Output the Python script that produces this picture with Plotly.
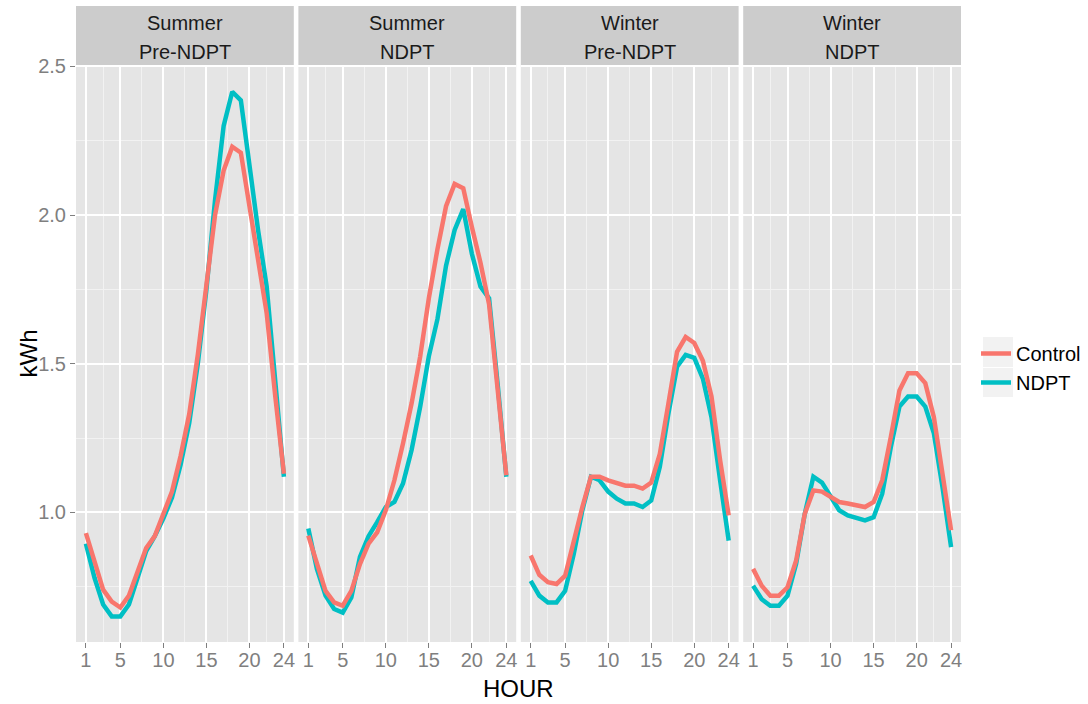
import plotly.graph_objects as go

hours = list(range(1, 25))
x_ticks = [1, 5, 10, 15, 20, 24]
x_minor = [3, 7.5, 12.5, 17.5, 22]
y_ticks = [1.0, 1.5, 2.0, 2.5]
y_ticktext = ["1.0", "1.5", "2.0", "2.5"]
y_minor = [0.75, 1.25, 1.75, 2.25]

panel_line1 = ["Summer", "Summer", "Winter", "Winter"]
panel_line2 = ["Pre-NDPT", "NDPT", "Pre-NDPT", "NDPT"]
series_names = ["Control", "NDPT"]

summer_pre_control = [0.93, 0.83, 0.74, 0.70, 0.68, 0.72, 0.80, 0.88, 0.92, 1.00, 1.07, 1.19,
                      1.33, 1.53, 1.77, 2.00, 2.15, 2.23, 2.21, 2.03, 1.85, 1.67, 1.39, 1.13]
summer_pre_ndpt = [0.895, 0.78, 0.69, 0.65, 0.65, 0.69, 0.78, 0.87, 0.92, 0.98, 1.05, 1.16,
                   1.30, 1.50, 1.75, 2.05, 2.30, 2.415, 2.386, 2.155, 1.95, 1.76, 1.45, 1.12]
summer_ndpt_control = [0.922, 0.83, 0.736, 0.697, 0.686, 0.736, 0.826, 0.895, 0.933, 1.007, 1.108, 1.232,
                       1.367, 1.525, 1.72, 1.885, 2.03, 2.105, 2.09, 1.96, 1.84, 1.70, 1.41, 1.125]
summer_ndpt_ndpt = [0.946, 0.81, 0.72, 0.675, 0.663, 0.714, 0.85, 0.92, 0.967, 1.018, 1.035, 1.097,
                    1.21, 1.356, 1.525, 1.65, 1.83, 1.95, 2.02, 1.87, 1.76, 1.72, 1.43, 1.12]
winter_pre_control = [0.855, 0.79, 0.765, 0.759, 0.787, 0.905, 1.018, 1.12, 1.12, 1.108, 1.097, 1.09,
                      1.09, 1.08, 1.10, 1.197, 1.367, 1.54, 1.59, 1.57, 1.51, 1.39, 1.176, 0.99]
winter_pre_ndpt = [0.77, 0.72, 0.697, 0.697, 0.736, 0.86, 1.007, 1.12, 1.108, 1.07, 1.046, 1.03,
                   1.03, 1.018, 1.04, 1.153, 1.333, 1.49, 1.53, 1.52, 1.45, 1.32, 1.108, 0.905]
winter_ndpt_control = [0.81, 0.753, 0.72, 0.72, 0.748, 0.838, 0.995, 1.074, 1.07, 1.052, 1.035, 1.03,
                       1.024, 1.018, 1.035, 1.108, 1.254, 1.41, 1.468, 1.468, 1.435, 1.32, 1.13, 0.94]
winter_ndpt_ndpt = [0.753, 0.708, 0.686, 0.686, 0.72, 0.827, 0.995, 1.12, 1.10, 1.052, 1.007, 0.99,
                    0.98, 0.973, 0.984, 1.063, 1.22, 1.356, 1.39, 1.39, 1.356, 1.266, 1.085, 0.883]

panels = [
    (summer_pre_control, summer_pre_ndpt),
    (summer_ndpt_control, summer_ndpt_ndpt),
    (winter_pre_control, winter_pre_ndpt),
    (winter_ndpt_control, winter_ndpt_ndpt),
]
colors = ["#F8766D", "#00BFC4"]

W, H = 1088, 704
ML, MR, MT, MB = 76, 127, 6, 62
plot_w = W - ML - MR
plot_h = H - MT - MB
gap_px = 4.6
panel_w = (plot_w - 3 * gap_px) / 4
strip_px = 59
y_top = (plot_h - strip_px) / plot_h

FONT = "Liberation Sans, Arial, sans-serif"
TICK_GREY = "#7F7F7F"

fig = go.Figure()
shapes = []
annotations = []
layout_axes = {}

for i, (ctrl, ndpt) in enumerate(panels):
    n = i + 1
    x0 = (i * (panel_w + gap_px)) / plot_w
    x1 = (i * (panel_w + gap_px) + panel_w) / plot_w
    xa = "x" if n == 1 else f"x{n}"
    ya = "y" if n == 1 else f"y{n}"
    # NDPT drawn first so that Control lies on top, as in the reference
    for k in [1, 0]:
        vals = [ctrl, ndpt][k]
        fig.add_trace(go.Scatter(
            x=hours, y=vals, mode="lines", name=series_names[k],
            line=dict(color=colors[k], width=4.5),
            xaxis=xa, yaxis=ya, legendgroup=series_names[k], legendrank=k + 1,
            showlegend=(i == 0), hoverinfo="skip",
        ))
    layout_axes["xaxis" if n == 1 else f"xaxis{n}"] = dict(
        domain=[x0, x1], anchor=ya, range=[-0.15, 25.15], automargin=False,
        tickmode="array", tickvals=x_ticks, ticks="outside", ticklen=5,
        tickwidth=1, tickcolor=TICK_GREY, ticklabelstandoff=-5,
        tickfont=dict(size=20, color=TICK_GREY, family=FONT),
        showgrid=True, gridcolor="white", gridwidth=1.5,
        minor=dict(tickvals=x_minor, showgrid=True, gridcolor="#F2F2F2", gridwidth=0.8),
        zeroline=False, showline=False, fixedrange=True,
    )
    layout_axes["yaxis" if n == 1 else f"yaxis{n}"] = dict(
        domain=[0, y_top], anchor=xa, range=[0.564, 2.505], automargin=False,
        tickmode="array", tickvals=y_ticks, ticktext=y_ticktext,
        ticks="outside" if n == 1 else "", ticklen=5, tickwidth=1, tickcolor=TICK_GREY,
        showticklabels=(n == 1),
        tickfont=dict(size=20, color=TICK_GREY, family=FONT),
        showgrid=True, gridcolor="white", gridwidth=1.5,
        minor=dict(tickvals=y_minor, showgrid=True, gridcolor="#F2F2F2", gridwidth=0.8),
        zeroline=False, showline=False, fixedrange=True,
    )
    shapes.append(dict(type="rect", xref="paper", yref="paper", x0=x0, x1=x1,
                       y0=y_top, y1=1.0, fillcolor="#CCCCCC", line=dict(width=0), layer="below"))
    xc = (x0 + x1) / 2
    annotations.append(dict(text=panel_line1[i], xref="paper", yref="paper", x=xc,
                            y=1.0 - (17 / plot_h), xanchor="center", yanchor="middle",
                            showarrow=False, font=dict(size=20, color="#1A1A1A", family=FONT)))
    annotations.append(dict(text=panel_line2[i], xref="paper", yref="paper", x=xc,
                            y=1.0 - (46.5 / plot_h), xanchor="center", yanchor="middle",
                            showarrow=False, font=dict(size=20, color="#1A1A1A", family=FONT)))

# legend key backgrounds
for (top, bot) in [(337, 367), (368, 397)]:
    shapes.append(dict(type="rect", xref="paper", yref="paper",
                       x0=(983 - ML) / plot_w, x1=(1013 - ML) / plot_w,
                       y0=(H - MB - bot) / plot_h, y1=(H - MB - top) / plot_h,
                       fillcolor="#F2F2F2", line=dict(width=0), layer="below"))

annotations.append(dict(text="HOUR", xref="paper", yref="paper", x=0.5, y=(H - MB - 688) / plot_h,
                        xanchor="center", yanchor="middle", showarrow=False,
                        font=dict(size=24, color="black", family=FONT)))
annotations.append(dict(text="kWh", xref="paper", yref="paper", x=(28 - ML) / plot_w, y=y_top / 2,
                        xanchor="center", yanchor="middle", textangle=-90, showarrow=False,
                        font=dict(size=24, color="black", family=FONT)))

fig.update_layout(
    template="none",
    width=W, height=H,
    margin=dict(l=ML, r=MR, t=MT, b=MB, pad=0, autoexpand=False),
    paper_bgcolor="white", plot_bgcolor="#E5E5E5",
    font=dict(family=FONT, size=20, color="black"),
    showlegend=True,
    legend=dict(x=(976 - ML) / plot_w, xanchor="left", y=(H - MB - 368) / plot_h, yanchor="middle",
                bgcolor="rgba(0,0,0,0)", borderwidth=0, font=dict(size=20, color="black", family=FONT),
                tracegroupgap=2, itemwidth=30, traceorder="normal"),
    shapes=shapes, annotations=annotations,
    **layout_axes,
)

fig.write_html(
    "out.html",
    config={"displayModeBar": False},
    post_script="document.body.style.margin='0px';document.body.style.overflow='hidden';",
)
